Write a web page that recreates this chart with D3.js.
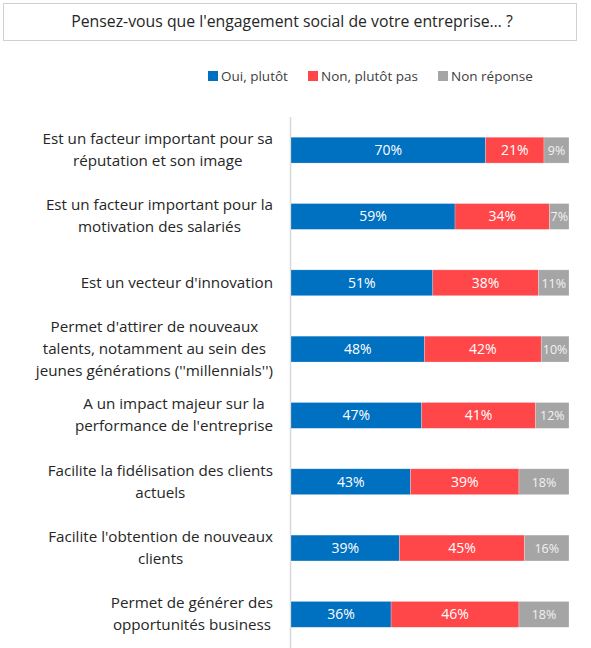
<!DOCTYPE html>
<html lang="fr">
<head>
<meta charset="utf-8">
<script src="https://d3js.org/d3.v7.min.js"></script>
<style>
  body { margin: 0; background: #fff; }
  svg { display: block; font-family: "Open Sans", Lato, sans-serif; }
</style>
</head>
<body>
<div id="chart"></div>
<script>
// data
var questions = [
  ["Est un facteur important pour sa", "réputation et son image"],
  ["Est un facteur important pour la", "motivation des salariés"],
  ["Est un vecteur d'innovation"],
  ["Permet d'attirer de nouveaux", "talents, notamment au sein des", "jeunes générations (''millennials'')"],
  ["A un impact majeur sur la", "performance de l'entreprise"],
  ["Facilite la fidélisation des clients", "actuels"],
  ["Facilite l'obtention de nouveaux", "clients"],
  ["Permet de générer des", "opportunités business"]
];
var oui = [70, 59, 51, 48, 47, 43, 39, 36];
var non = [21, 34, 38, 42, 41, 39, 45, 46];
var nr  = [9, 7, 11, 10, 12, 18, 16, 18];
var seriesNames = ["Oui, plutôt", "Non, plutôt pas", "Non réponse"];
var colors = ["#0070C0", "#FF474A", "#A5A5A5"];
var title = "Pensez-vous que l'engagement social de votre entreprise… ?";

var w = 591, h = 648;

var svg = d3.select("#chart").append("svg")
  .attr("width", w)
  .attr("height", h);

// title box
svg.append("rect")
  .attr("x", 3.5).attr("y", 3.5)
  .attr("width", 573).attr("height", 37)
  .attr("fill", "#fff")
  .attr("stroke", "#d0d0d0");

svg.append("text")
  .attr("x", 292).attr("y", 27)
  .attr("text-anchor", "middle")
  .attr("font-size", 15.8)
  .attr("fill", "#262626")
  .text(title);

// legend
var legendX = [208, 308, 438];
var legend = svg.selectAll("g.legend")
  .data(seriesNames)
  .enter().append("g")
  .attr("class", "legend")
  .attr("transform", function(d, i) { return "translate(" + legendX[i] + ",76)"; });

legend.append("rect")
  .attr("x", 0).attr("y", -5)
  .attr("width", 10).attr("height", 10)
  .attr("fill", function(d, i) { return colors[i]; });

legend.append("text")
  .attr("x", 13).attr("y", 5)
  .attr("font-size", 13.5)
  .attr("fill", "#404040")
  .text(function(d) { return d; });

// scales
var x = d3.scaleLinear().domain([0, 100]).range([291, 569]);
var y = d3.scaleBand()
  .domain(d3.range(questions.length))
  .range([117, 647.5])
  .paddingInner(0.61)
  .paddingOuter(0.305);

// stacked data
var rows = oui.map(function(d, i) { return { oui: d, non: non[i], nr: nr[i] }; });
var stack = d3.stack().keys(["oui", "non", "nr"])(rows);

// axis line
svg.append("line")
  .attr("x1", 290.5).attr("x2", 290.5)
  .attr("y1", 117).attr("y2", h)
  .attr("stroke", "#d9d9d9")
  .attr("stroke-width", 1.5);

var layers = svg.selectAll("g.layer")
  .data(stack)
  .enter().append("g")
  .attr("class", "layer")
  .attr("fill", function(d, i) { return colors[i]; });

layers.selectAll("rect")
  .data(function(d) { return d; })
  .enter().append("rect")
  .attr("x", function(d) { return x(d[0]); })
  .attr("y", function(d, i) { return y(i); })
  .attr("width", function(d) { return x(d[1]) - x(d[0]); })
  .attr("height", y.bandwidth())
  .attr("stroke", "#fff")
  .attr("stroke-opacity", 0.4)
  .attr("stroke-width", 0.6);

layers.each(function(layer, li) {
  d3.select(this).selectAll("text")
    .data(layer)
    .enter().append("text")
    .attr("x", function(d) { return (x(d[0]) + x(d[1])) / 2; })
    .attr("y", function(d, i) { return y(i) + y.bandwidth() / 2 + 5; })
    .attr("text-anchor", "middle")
    .attr("font-size", li == 2 ? 12.5 : 14)
    .attr("fill", li == 2 ? "#f2f2f2" : "#fff")
    .text(function(d) { return (d[1] - d[0]) + "%"; });
});

// category labels, lines centred on each other, block right aligned
var labelRight = 273;
questions.forEach(function(lines, i) {
  var g = svg.append("g");
  var cy = y(i) + y.bandwidth() / 2;
  var lh = 22;
  var texts = lines.map(function(line, k) {
    return g.append("text")
      .attr("y", cy + (k - (lines.length - 1) / 2) * lh + 5)
      .attr("text-anchor", "middle")
      .attr("font-size", 15.2)
      .attr("fill", "#262626")
      .text(line);
  });
  var maxW = d3.max(texts, function(t) { return t.node().getComputedTextLength(); });
  texts.forEach(function(t) { t.attr("x", labelRight - maxW / 2); });
});
</script>
</body>
</html>
